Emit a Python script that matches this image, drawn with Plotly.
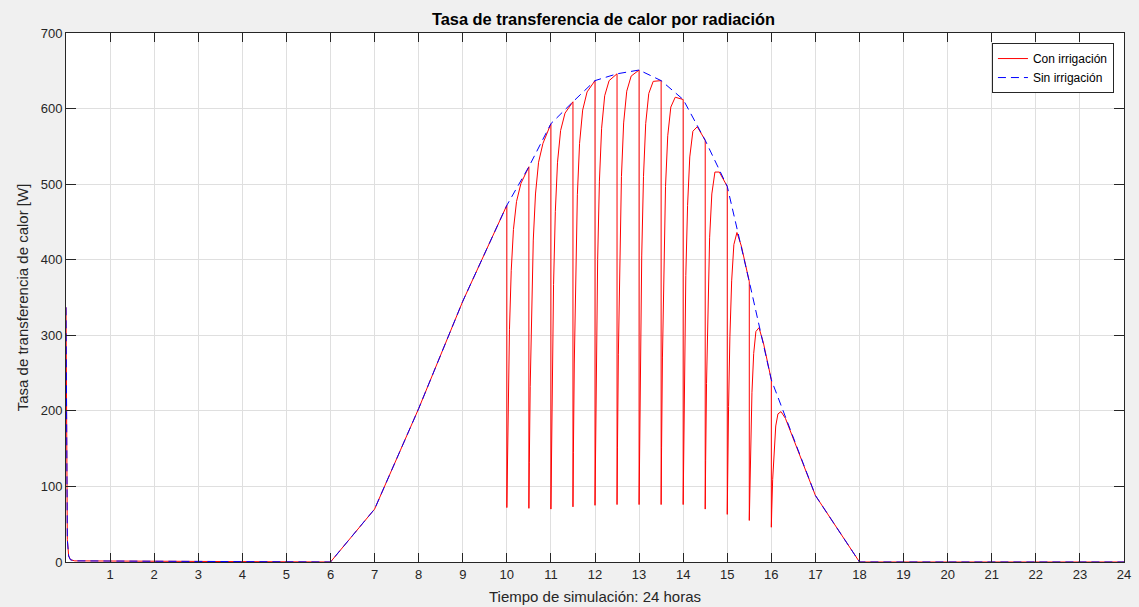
import plotly.graph_objects as go

# ---------------- data ----------------
horas_sin = [0, 0.01, 0.03, 0.06, 0.1, 0.2, 3.0, 3.05, 6, 7, 8, 9, 10, 10.5, 11, 11.5,
             12, 12.5, 13, 13.5, 14, 14.5, 15, 15.5, 16, 17, 18, 18.1, 24]
sin_irrigacion = [337, 150, 30, 8, 3, 1.5, 1, 0.3, 0, 70, 203, 345, 472, 523, 580, 609,
                  637, 646, 651, 637, 612, 558, 497, 371, 241, 88, 0, 0, 0]

# irrigation events (red curve): start time, minimum reached, recovery values
riego_inicio = [10, 10.5, 11, 11.5, 12, 12.5, 13, 13.5, 14, 14.5, 15, 15.5, 16]
riego_minimo = [72, 71, 70, 73, 75, 76, 76, 76, 76, 70, 63, 55, 46]
recuperacion_dt = [0.01, 0.03, 0.06, 0.1, 0.15, 0.22, 0.32]
recuperacion = [
    [126, 215, 308, 386, 440, 477, 501],
    [132, 232, 338, 426, 487, 529, 554],
    [139, 250, 367, 464, 529, 571, 594],
    [145, 262, 385, 486, 554, 598, 622],
    [150, 272, 400, 504, 574, 617, 637],
    [152, 275, 405, 510, 581, 623, 643],
    [152, 276, 405, 510, 580, 620, 636],
    [151, 270, 396, 497, 564, 602, 615],
    [146, 260, 379, 472, 536, 570, 576],
    [134, 236, 344, 429, 487, 516, 516],
    [118, 206, 298, 372, 420, 436, 418],
    [94, 157, 224, 276, 305, 310, 290],
    [70, 109, 149, 180, 196, 199, 190],
]

x_ticks = list(range(0, 25))
x_ticktext = [""] + [str(h) for h in range(1, 25)]
y_ticks = [0, 100, 200, 300, 400, 500, 600, 700]

# ---------------- build red series from the read values ----------------
blue_at = dict(zip(horas_sin, sin_irrigacion))
horas_con, con_irrigacion = [], []
for h, v in zip(horas_sin, sin_irrigacion):
    if h < riego_inicio[0]:
        horas_con.append(h)
        con_irrigacion.append(v)
for t0, vmin, rec in zip(riego_inicio, riego_minimo, recuperacion):
    horas_con += [t0, t0]
    con_irrigacion += [blue_at[t0], vmin]
    for dt, v in zip(recuperacion_dt, rec):
        horas_con.append(t0 + dt)
        con_irrigacion.append(v)
for h, v in zip(horas_sin, sin_irrigacion):
    if h > riego_inicio[-1] + 0.5:
        horas_con.append(h)
        con_irrigacion.append(v)

# ---------------- figure ----------------
fig = go.Figure()
fig.add_trace(go.Scatter(x=horas_con, y=con_irrigacion, mode="lines",
                         name="Con irrigación",
                         line=dict(color="#ff0000", width=1)))
fig.add_trace(go.Scatter(x=horas_sin, y=sin_irrigacion, mode="lines",
                         name="Sin irrigación",
                         line=dict(color="#0000ff", width=1, dash="8px,5px")))

axis_col = "#262626"
grid_col = "#dfdfdf"
font_fam = "Liberation Sans, Arial, Helvetica, sans-serif"

fig.update_layout(
    width=1139, height=607,
    paper_bgcolor="#f0f0f0", plot_bgcolor="#ffffff",
    margin=dict(l=66, r=15, t=33, b=45, autoexpand=False),
    font=dict(family=font_fam, color=axis_col, size=13),
    title=dict(text="<b>Tasa de transferencia de calor por radiación</b>",
               x=0.508, xref="paper", xanchor="center",
               y=1 - 19 / 607, yref="container", yanchor="middle",
               font=dict(size=16.4, color="#000000", family=font_fam)),
    showlegend=True,
    legend=dict(x=0.9905, y=0.981, xanchor="right", yanchor="top",
                bgcolor="#ffffff", bordercolor=axis_col, borderwidth=1,
                font=dict(size=12, color="#000000"), itemwidth=30,
                tracegroupgap=0),
    hovermode=False,
)
fig.update_xaxes(
    range=[0, 24], tickmode="array", tickvals=x_ticks, ticktext=x_ticktext,
    ticks="inside", ticklen=9, tickcolor=axis_col, tickwidth=1,
    showline=True, linecolor=axis_col, linewidth=1, mirror="allticks",
    showgrid=True, gridcolor=grid_col, gridwidth=1, zeroline=False,
    tickfont=dict(size=13, color=axis_col),
    title=dict(text="Tiempo de simulación: 24 horas", standoff=10,
               font=dict(size=15, color=axis_col)),
    automargin=False,
)
fig.update_yaxes(
    range=[0, 700], tickmode="array", tickvals=y_ticks,
    ticks="inside", ticklen=10, tickcolor=axis_col, tickwidth=1,
    showline=True, linecolor=axis_col, linewidth=1, mirror="allticks",
    showgrid=True, gridcolor=grid_col, gridwidth=1, zeroline=False,
    tickfont=dict(size=13, color=axis_col),
    title=dict(text="Tasa de transferencia de calor [W]", standoff=8,
               font=dict(size=15, color=axis_col)),
    automargin=False,
)

fig.write_html("out.html",
               config={"displayModeBar": False},
               post_script="document.body.style.margin='0';"
                           "document.body.style.overflow='hidden';")
